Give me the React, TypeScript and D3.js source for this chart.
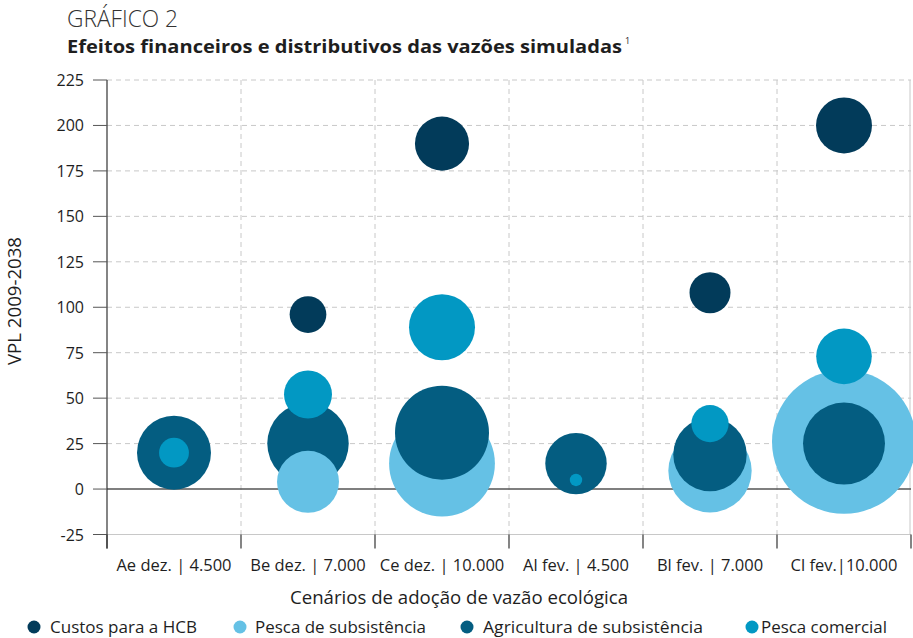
import React from "react";
import * as d3 from "d3";

const categories = ["Ae dez. | 4.500", "Be dez. | 7.000", "Ce dez. | 10.000", "Al fev. | 4.500", "Bl fev. | 7.000", "Cl fev.|10.000"];
const seriesNames = ["Custos para a HCB", "Pesca de subsistência", "Agricultura de subsistência", "Pesca comercial"];
const seriesColors = ["#023b5a", "#65c1e5", "#045d81", "#0298c3"];
// y values (VPL) and bubble magnitudes per series per category (null = absent)
const custosY = [null, 96, 190, null, 108, 200];
const custosZ = [null, 6.5, 14.1, null, 8.1, 15.1];
const subsY = [null, 4, 14, null, 10, 26];
const subsZ = [null, 18.5, 54, null, 33.5, 100];
const agriY = [20, 25, 31, 14, 19, 25];
const agriZ = [26.4, 32, 42.6, 18.2, 26, 32.4];
const comY = [20, 52, 89, 5, 36, 73];
const comZ = [4.3, 11.1, 21, 0.74, 6.7, 14.9];
const yTicks = [-25, 0, 25, 50, 75, 100, 125, 150, 175, 200, 225];

const W = 913, H = 638;
const left = 107, right = 911, top = 80, bottom = 534.5;

export default function App() {
  const x = d3.scaleBand<string>().domain(categories).range([left, right]);
  const y = d3.scaleLinear().domain([-25, 225]).range([bottom, top]);
  const r = d3.scaleSqrt().domain([0, 100]).range([0, 72]);
  const ys = [custosY, subsY, agriY, comY];
  const zs = [custosZ, subsZ, agriZ, comZ];
  const bubbles: { cx: number; cy: number; rr: number; color: string }[] = [];
  ys.forEach((arr, s) => {
    arr.forEach((v, i) => {
      const z = zs[s][i];
      if (v == null || z == null) return;
      bubbles.push({ cx: x(categories[i])! + x.bandwidth() / 2, cy: y(v), rr: r(z), color: seriesColors[s] });
    });
  });
  bubbles.sort((a, b) => b.rr - a.rr);
  const font = "'Open Sans', sans-serif";
  const legendCX = [34, 240, 467, 752];
  const legendTX = [50, 255, 483, 761];
  const legendW = [147, 171, 220, 126];
  const boundaries = d3.range(categories.length + 1).map((i) => left + i * x.step());
  const txt = "#1e1e1e";
  return (
    <svg width={W} height={H} style={{ position: "absolute", left: 0, top: 0 }} fontFamily={font}>
      <rect width={W} height={H} fill="#fff" />
      <text x={67} y={27} fontSize={23} fontWeight={300} fill="#333" textLength={111} lengthAdjust="spacingAndGlyphs">GRÁFICO 2</text>
      <text x={67} y={53} fontSize={18} fontWeight={700} fill={txt} textLength={555} lengthAdjust="spacingAndGlyphs">Efeitos financeiros e distributivos das vazões simuladas</text>
      <text x={625} y={44} fontSize={9} fill={txt}>1</text>
      {yTicks.filter((t) => t !== 0).map((t) => (
        <line key={"h" + t} x1={left} x2={right} y1={y(t)} y2={y(t)} stroke="#c8c8c8" strokeWidth={1} strokeDasharray={t === -25 ? undefined : "5,4"} />
      ))}
      {boundaries.slice(1, -1).map((b, i) => (
        <line key={"v" + i} x1={b} x2={b} y1={top} y2={bottom} stroke="#c8c8c8" strokeDasharray="5,4" />
      ))}
      <line x1={right - 1} x2={right - 1} y1={top} y2={bottom} stroke="#c8c8c8" />
      <line x1={left} x2={right} y1={y(0)} y2={y(0)} stroke="#555" strokeWidth={1.5} />
      {bubbles.map((b, i) => (
        <circle key={i} cx={b.cx} cy={b.cy} r={b.rr} fill={b.color} />
      ))}
      <line x1={left} x2={left} y1={top} y2={bottom + 14} stroke="#333" strokeWidth={1.2} />
      {yTicks.map((t) => (
        <g key={"yt" + t}>
          <line x1={93} x2={left} y1={y(t)} y2={y(t)} stroke="#555" />
          <text x={84} y={y(t) + 6} fontSize={16} textAnchor="end" fill={txt}>{t}</text>
        </g>
      ))}
      {boundaries.map((b, i) => (
        <line key={"xt" + i} x1={b} x2={b} y1={bottom} y2={bottom + 14} stroke="#333" strokeWidth={1.2} />
      ))}
      {categories.map((c) => (
        <text key={c} x={x(c)! + x.bandwidth() / 2} y={571} fontSize={16.5} textAnchor="middle" fill={txt}>{c}</text>
      ))}
      <text x={459} y={604} fontSize={18} textAnchor="middle" fill={txt} textLength={338} lengthAdjust="spacingAndGlyphs">Cenários de adoção de vazão ecológica</text>
      <text transform={`translate(21,301) rotate(-90)`} fontSize={18} textAnchor="middle" fill={txt} textLength={128} lengthAdjust="spacingAndGlyphs">VPL 2009-2038</text>
      {seriesNames.map((n, i) => (
        <g key={n}>
          <circle cx={legendCX[i]} cy={627} r={6.5} fill={seriesColors[i]} />
          <text x={legendTX[i]} y={633} fontSize={17} fill={txt} textLength={legendW[i]} lengthAdjust="spacingAndGlyphs">{n}</text>
        </g>
      ))}
    </svg>
  );
}
